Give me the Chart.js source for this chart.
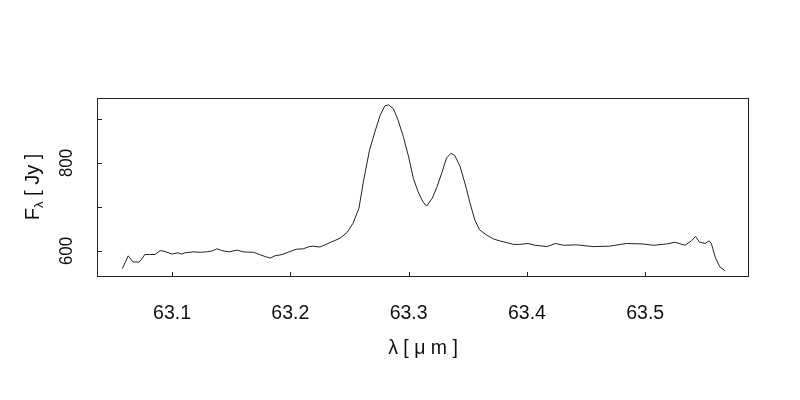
<!DOCTYPE html>
<html>
<head>
<meta charset="utf-8">
<script src="https://cdn.jsdelivr.net/npm/chart.js@4"></script>
<style>
  html, body { margin: 0; padding: 0; background: #fff; }
  #wrap { width: 800px; height: 400px; }
</style>
</head>
<body>
<div id="wrap"><canvas id="spec" width="800" height="400"></canvas></div>
<script>
// wavelength (micron) and flux (Jy)
const wavelength = [
  63.058, 63.063, 63.067, 63.072, 63.074, 63.077, 63.081, 63.0856, 63.090, 63.094,
  63.100, 63.105, 63.108, 63.111, 63.118, 63.124, 63.129, 63.134, 63.138, 63.142,
  63.148, 63.155, 63.160, 63.169, 63.174, 63.179, 63.183, 63.187, 63.193, 63.198,
  63.205, 63.211, 63.216, 63.219, 63.225, 63.2336, 63.242, 63.248, 63.253, 63.258,
  63.262, 63.267, 63.272, 63.276, 63.280, 63.283, 63.287, 63.291, 63.2955, 63.300,
  63.304, 63.308, 63.312, 63.3153, 63.320, 63.324, 63.328, 63.332, 63.3358, 63.339,
  63.3435, 63.348, 63.352, 63.356, 63.360, 63.366, 63.372, 63.377, 63.383, 63.3885,
  63.394, 63.401, 63.407, 63.417, 63.424, 63.431, 63.442, 63.456, 63.470, 63.484,
  63.498, 63.507, 63.518, 63.525, 63.5336, 63.539, 63.5425, 63.546, 63.5506, 63.554,
  63.556, 63.559, 63.563, 63.5675
];
const flux = [
  560, 589, 575, 575, 580, 592, 592, 592, 601, 599,
  593, 596, 593, 596, 598, 597, 598, 600, 605, 601,
  598, 602, 598, 597, 592, 587, 584, 589, 592, 597,
  604, 605, 610, 611, 609, 619, 629, 642, 663, 697,
  761, 830, 875, 909, 930, 932, 924, 898, 860, 814,
  765, 735, 712, 702, 720, 746, 777, 811, 822, 817,
  792, 750, 708, 670, 648, 636, 627, 623, 619, 615,
  615, 617, 613, 610, 617, 613, 614, 610, 611, 617,
  616, 613, 616, 620, 613, 623, 633, 620, 617, 623,
  616, 587, 564, 555
];
const xTicks = [63.1, 63.2, 63.3, 63.4, 63.5];
const yTicks = [600, 700, 800, 900];
const yLabelled = [600, 800];

const FAMILY = '"Liberation Sans", Arial, sans-serif';

// draw text at (x, y), optionally rotated, with a screen-space scale
function drawText(ctx, text, x, y, rotate, sx, sy) {
  ctx.save();
  ctx.translate(x, y);
  ctx.scale(sx || 1, sy || 1);
  if (rotate) ctx.rotate(-Math.PI / 2);
  ctx.fillText(text, 0, 0);
  ctx.restore();
}

const frameAndAxes = {
  id: 'frameAndAxes',
  afterDraw(chart) {
    const ctx = chart.ctx;
    const a = chart.chartArea;
    const xs = chart.scales.x, ys = chart.scales.y;
    ctx.save();
    ctx.strokeStyle = '#222';
    ctx.lineWidth = 1;
    ctx.strokeRect(a.left + 0.5, a.top + 0.5, a.right - a.left - 1, a.bottom - a.top - 1);

    // inward tick marks
    ctx.beginPath();
    xTicks.forEach(v => {
      const px = Math.round(xs.getPixelForValue(v)) + 0.5;
      ctx.moveTo(px, a.bottom);
      ctx.lineTo(px, a.bottom - 5);
    });
    yTicks.forEach(v => {
      const py = Math.round(ys.getPixelForValue(v)) + 0.5;
      ctx.moveTo(a.left, py);
      ctx.lineTo(a.left + 5, py);
    });
    ctx.stroke();

    ctx.fillStyle = '#111';
    ctx.textAlign = 'center';
    ctx.textBaseline = 'middle';
    ctx.font = '19.5px ' + FAMILY;
    xTicks.forEach(v => drawText(ctx, v.toFixed(1), xs.getPixelForValue(v), 314, false));
    ctx.font = '19px ' + FAMILY;
    yLabelled.forEach(v => drawText(ctx, String(v), 67, ys.getPixelForValue(v), true, 1, 0.88));

    // x title
    ctx.font = '19.5px ' + FAMILY;
    drawText(ctx, 'λ [ μ m ]', (a.left + a.right) / 2, 349, false);

    // y title with subscript lambda
    ctx.save();
    ctx.translate(33, 187);
    ctx.rotate(-Math.PI / 2);
    ctx.textAlign = 'left';
    ctx.textBaseline = 'middle';
    const big = '20px ' + FAMILY, small = '13px ' + FAMILY;
    const main = 'F', rest = ' [ Jy ]';
    ctx.font = big;
    const wF = ctx.measureText(main).width;
    const wR = ctx.measureText(rest).width;
    ctx.font = small;
    const wL = ctx.measureText('λ').width;
    const x0 = -(wF + wL + wR) / 2;
    ctx.font = big;
    ctx.fillText(main, x0, 0);
    ctx.fillText(rest, x0 + wF + wL, 0);
    ctx.font = small;
    ctx.fillText('λ', x0 + wF, 6);
    ctx.restore();

    ctx.restore();
  }
};

new Chart(document.getElementById('spec').getContext('2d'), {
  type: 'scatter',
  data: {
    datasets: [{
      data: wavelength.map((w, i) => ({ x: w, y: flux[i] })),
      showLine: true,
      borderColor: '#222',
      borderWidth: 1,
      pointRadius: 0,
      tension: 0,
      fill: false
    }]
  },
  options: {
    responsive: false,
    animation: false,
    layout: { padding: { left: 97, right: 51, top: 98, bottom: 123 } },
    plugins: { legend: { display: false }, tooltip: { enabled: false } },
    scales: {
      x: { type: 'linear', display: false, min: 63.0366, max: 63.5877 },
      y: { type: 'linear', display: false, min: 540.9, max: 947.7 }
    }
  },
  plugins: [frameAndAxes]
});
</script>
</body>
</html>
